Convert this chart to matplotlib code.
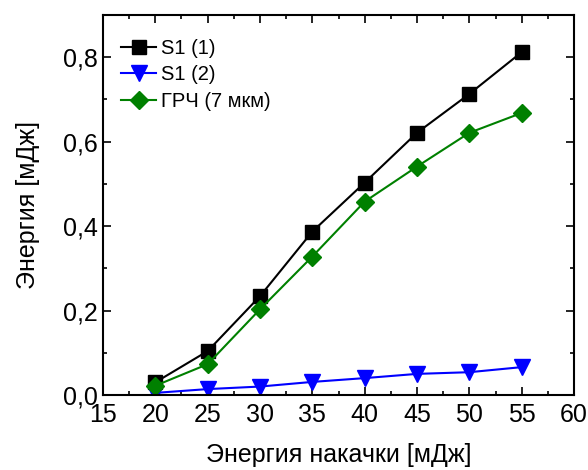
import matplotlib
matplotlib.use("Agg")
import matplotlib.pyplot as plt
from matplotlib.ticker import MultipleLocator, FuncFormatter

plt.rcParams['font.family'] = ['Liberation Sans', 'DejaVu Sans']

x = [20, 25, 30, 35, 40, 45, 50, 55]
s1_1 = [0.030, 0.104, 0.234, 0.387, 0.503, 0.621, 0.713, 0.812]
s1_2 = [0.005, 0.014, 0.020, 0.031, 0.040, 0.050, 0.054, 0.066]
grch = [0.022, 0.073, 0.203, 0.328, 0.458, 0.541, 0.621, 0.668]
labels = ["S1 (1)", "S1 (2)", "ГРЧ (7 мкм)"]

fig = plt.figure(figsize=(5.88, 4.70), dpi=100)
ax = fig.add_axes([103/588, 1-395/470, (574-103)/588, (395-15)/470])

ax.plot(x, s1_1, color='black', marker='s', markersize=9.5, lw=1.5, label=labels[0])
ax.plot(x, s1_2, color='#0000ff', marker='v', markersize=12, lw=1.5, label=labels[1])
ax.plot(x, grch, color='#008000', marker='D', markersize=9.5, lw=1.5, label=labels[2])

ax.set_xlim(15, 60)
ax.set_ylim(0, 0.9)
ax.xaxis.set_major_locator(MultipleLocator(5))
ax.xaxis.set_minor_locator(MultipleLocator(2.5))
ax.yaxis.set_major_locator(MultipleLocator(0.2))
ax.yaxis.set_minor_locator(MultipleLocator(0.1))
ax.yaxis.set_major_formatter(FuncFormatter(lambda v, p: f"{v:.1f}".replace('.', ',')))
ax.tick_params(which='both', direction='in', top=True, right=True, width=1.2)
ax.tick_params(which='major', length=6, labelsize=18)
ax.tick_params(axis='x', which='major', pad=6)
ax.tick_params(which='minor', length=3)
for s in ax.spines.values():
    s.set_linewidth(1.5)

ax.set_xlabel("Энергия накачки [мДж]", fontsize=18, labelpad=11)
ax.set_ylabel("Энергия [мДж]", fontsize=18, labelpad=17)

ax.legend(loc='upper left', frameon=False, fontsize=14.5, handlelength=1.75,
          handletextpad=0.25, labelspacing=0.38, borderaxespad=0.5,
          bbox_to_anchor=(0.0, 0.985))

fig.savefig("out.png", dpi=100)
